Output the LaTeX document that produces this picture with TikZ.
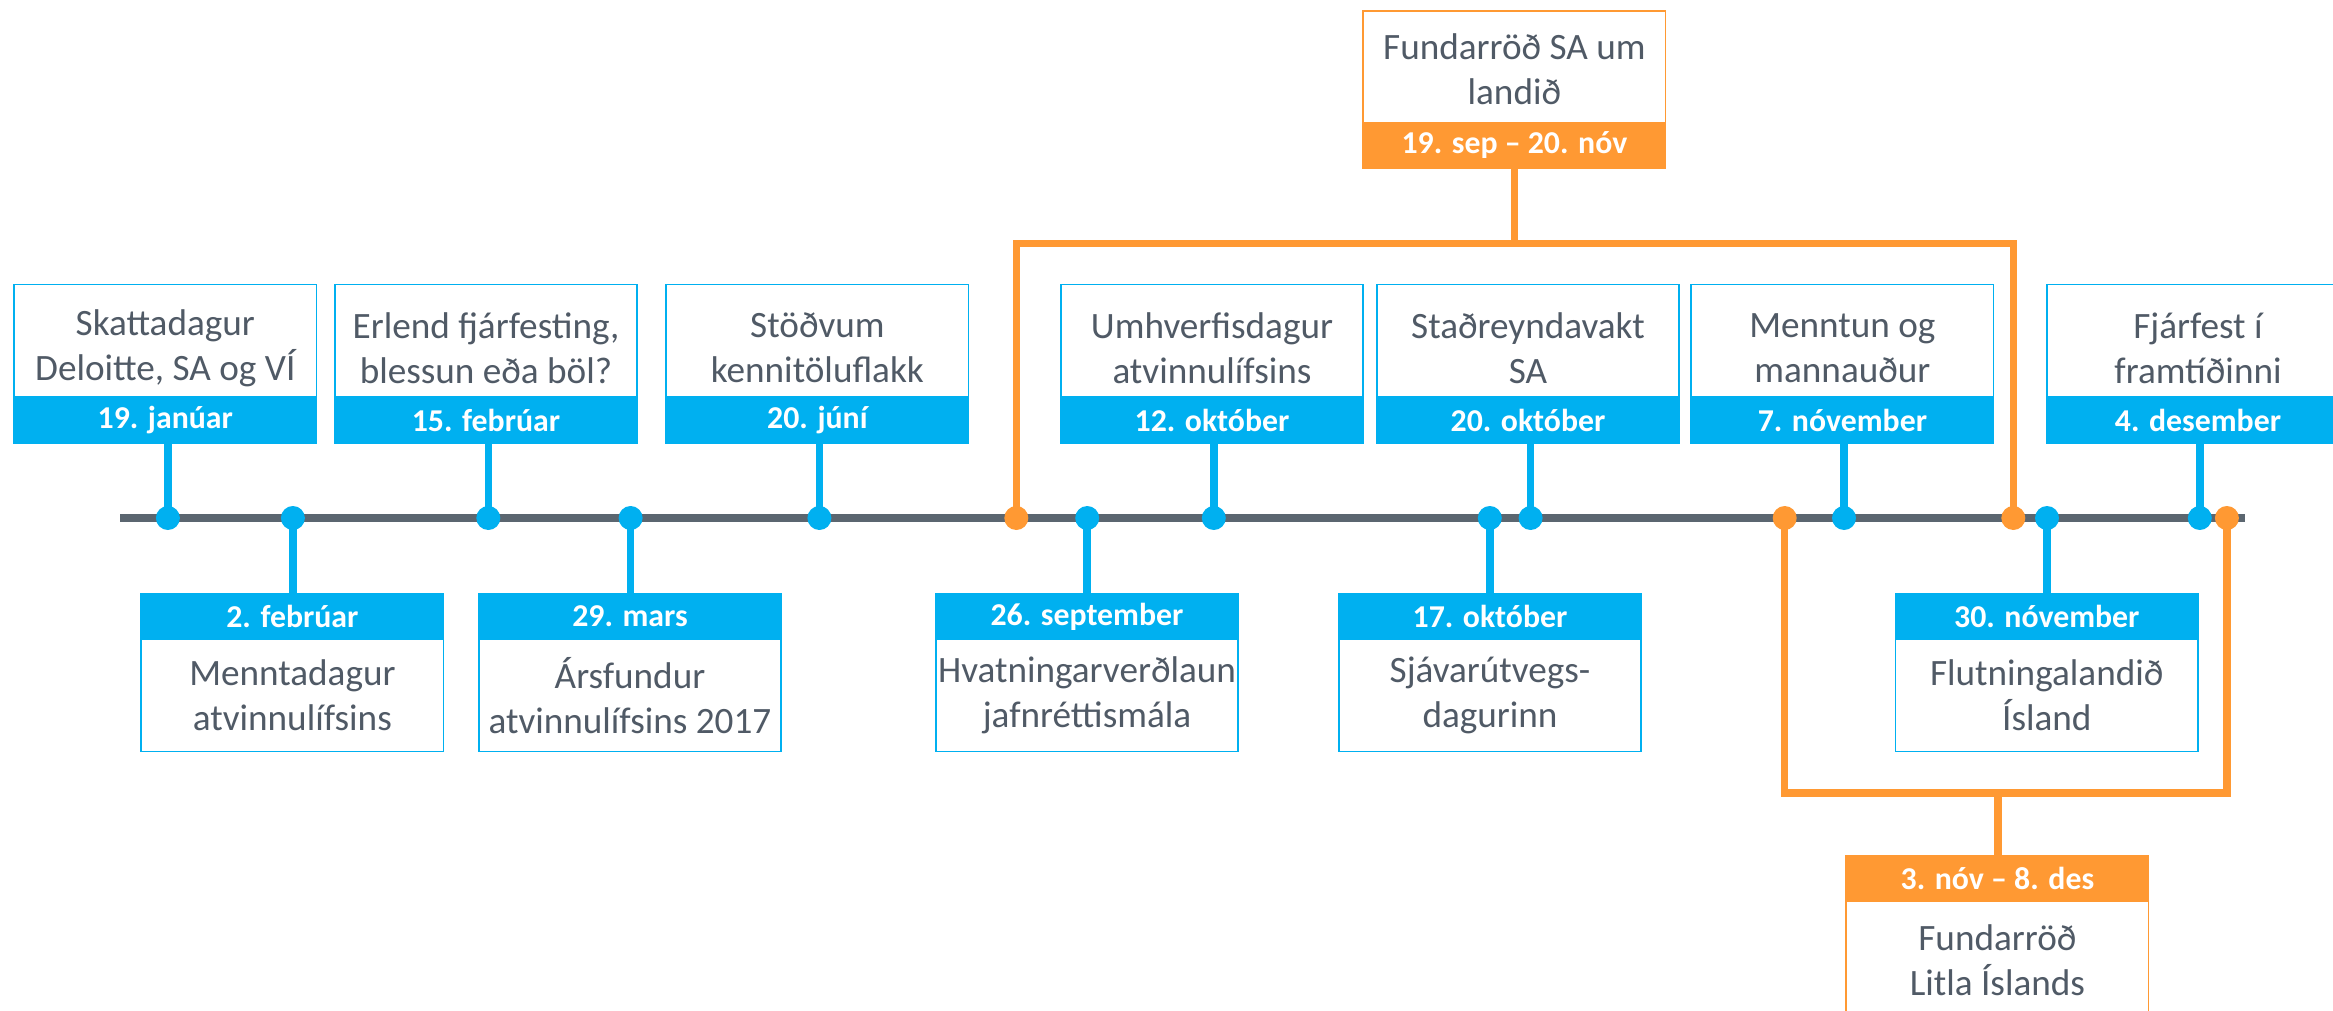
\documentclass[tikz,border=0pt]{standalone}
\usepackage{fontspec}
\setmainfont{Carlito}
\definecolor{cblue}{HTML}{00B0F0}
\definecolor{corange}{HTML}{FF9933}
\definecolor{cgray}{HTML}{5B6670}
\definecolor{ctext}{HTML}{505A66}
\begin{document}
\begin{tikzpicture}[x=0.5pt,y=-0.5pt,
  body/.style={draw=cblue, line width=0.8pt, fill=white, minimum width=151.25pt, minimum height=56.2pt, inner sep=0pt},
  txt/.style={inner sep=0pt, align=center, text=ctext, font=\fontsize{18.6}{22.5}\selectfont},
  head/.style={fill=cblue, draw=cblue, line width=0.8pt, minimum width=151.25pt, minimum height=23pt, inner sep=0pt, text=white, font=\fontsize{15.9}{18}\selectfont\bfseries},
  obody/.style={body, draw=corange},
  ohead/.style={head, fill=corange, draw=corange},
  dotb/.style={circle, fill=cblue, inner sep=0pt, minimum size=12pt},
  doto/.style={dotb, fill=corange},
  stemb/.style={draw=cblue, line width=3.75pt},
  stemo/.style={draw=corange, line width=3.75pt, line join=miter},
  tline/.style={draw=cgray, line width=4pt}
]
\useasboundingbox (0,0) rectangle (2333,1011);
\clip (0,0) rectangle (2333,1011);
% timeline
\coordinate (tl0) at (120,518);
\coordinate (tl1) at (2245,518);
\draw[tline] (tl0) -- (tl1);
% dots
\node[dotb] (d1) at (167.9,518) {};
\node[dotb] (d2) at (488.3,518) {};
\node[dotb] (d3) at (819.4,518) {};
\node[dotb] (d4) at (1213.8,518) {};
\node[dotb] (d5) at (1530.6,518) {};
\node[dotb] (d6) at (1844,518) {};
\node[dotb] (d7) at (2199.8,518) {};
\node[dotb] (d8) at (292.9,518) {};
\node[dotb] (d9) at (630.6,518) {};
\node[dotb] (d10) at (1087.2,518) {};
\node[dotb] (d11) at (1489.8,518) {};
\node[dotb] (d12) at (2047,518) {};
\node[doto] (od1) at (1016.3,518) {};
\node[doto] (od2) at (1784.7,518) {};
\node[doto] (od3) at (2013.3,518) {};
\node[doto] (od4) at (2226.9,518) {};
% top boxes
\node[body] (b1) at (165.3,340.8) {};
\node[txt] (t1) at (165.3,348) {Skattadagur\\Deloitte, SA og VÍ};
\node[head] (h1) at (165.3,420) {19. janúar};
\node[body] (b2) at (486,340.8) {};
\node[txt] (t2) at (486,348) {Erlend fjárfesting,\\blessun eða böl?};
\node[head] (h2) at (486,420) {15. febrúar};
\node[body] (b3) at (817.4,340.8) {};
\node[txt] (t3) at (817.4,348) {Stöðvum\\kennitöluflakk};
\node[head] (h3) at (817.4,420) {20. júní};
\node[body] (b4) at (1212,340.8) {};
\node[txt] (t4) at (1212,348) {Umhverfisdagur\\atvinnulífsins};
\node[head] (h4) at (1212,420) {12. október};
\node[body] (b5) at (1528,340.8) {};
\node[txt] (t5) at (1528,348) {Staðreyndavakt\\SA};
\node[head] (h5) at (1528,420) {20. október};
\node[body] (b6) at (1842.4,340.8) {};
\node[txt] (t6) at (1842.4,348) {Menntun og\\mannauður};
\node[head] (h6) at (1842.4,420) {7. nóvember};
\node[body] (b7) at (2198,340.8) {};
\node[txt] (t7) at (2198,348) {Fjárfest í\\framtíðinni};
\node[head] (h7) at (2198,420) {4. desember};
% bottom boxes
\node[head] (h8) at (292.4,616.5) {2. febrúar};
\node[body] (b8) at (292.4,695.1) {};
\node[txt] (t8) at (292.4,695.1) {Menntadagur\\atvinnulífsins};
\node[head] (h9) at (630,616.5) {29. mars};
\node[body] (b9) at (630,695.1) {};
\node[txt] (t9) at (630,695.1) {Ársfundur\\atvinnulífsins 2017};
\node[head] (h10) at (1087,616.5) {26. september};
\node[body] (b10) at (1087,695.1) {};
\node[txt] (t10) at (1087,695.1) {Hvatningarverðlaun\\jafnréttismála};
\node[head] (h11) at (1490,616.5) {17. október};
\node[body] (b11) at (1490,695.1) {};
\node[txt] (t11) at (1490,695.1) {Sjávarútvegs-\\dagurinn};
\node[head] (h12) at (2046.8,616.5) {30. nóvember};
\node[body] (b12) at (2046.8,695.1) {};
\node[txt] (t12) at (2046.8,695.1) {Flutningalandið\\Ísland};
% orange boxes
\node[obody] (ob1) at (1514.4,67) {};
\node[txt] (ot1) at (1514.4,69) {Fundarröð SA um\\landið};
\node[ohead] (oh1) at (1514.4,145.5) {19. sep – 20. nóv};
\node[ohead] (oh2) at (1997.4,878.4) {3. nóv – 8. des};
\node[obody] (ob2) at (1997.4,957.8) {};
\node[txt] (ot2) at (1997.4,960) {Fundarröð\\Litla Íslands};
% stems
\foreach \i in {1,...,7} {\draw[stemb] (h\i.south -| d\i) -- (d\i.center);}
\foreach \i in {8,...,12} {\draw[stemb] (h\i.north -| d\i) -- (d\i.center);}
% orange connectors
\coordinate (obar1) at (1514.3,243.6);
\coordinate (obar2) at (1997.8,793);
\draw[stemo] (od1.center) |- (obar1) -| (od3.center);
\draw[stemo] (oh1.south -| obar1) -- (obar1);
\draw[stemo] (od2.center) |- (obar2) -| (od4.center);
\draw[stemo] (obar2) -- (oh2.north -| obar2);
\end{tikzpicture}
\end{document}
